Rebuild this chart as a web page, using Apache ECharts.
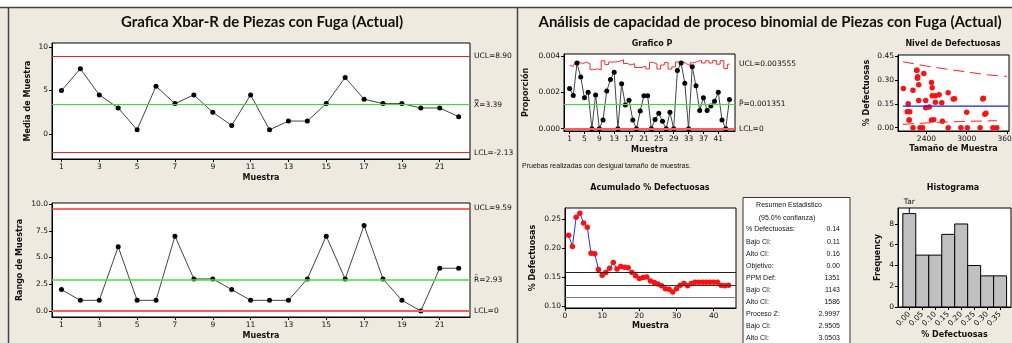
<!DOCTYPE html>
<html>
<head>
<meta charset="utf-8">
<script src="https://cdn.jsdelivr.net/npm/echarts@6/dist/echarts.min.js"></script>
<style>
html,body{margin:0;padding:0;background:#eeeae0;}
#main{width:1012px;height:343px;}
</style>
</head>
<body>
<div id="main"></div>
<script>
// datos Xbar-R (22 subgrupos)
var xbarMedias = [5, 7.5, 4.5, 3, 0.5, 5.5, 3.5, 4.5, 2.5, 1, 4.5, 0.5, 1.5, 1.5, 3.5, 6.5, 4, 3.5, 3.5, 3, 3, 2];
var xbarRangos = [2, 1, 1, 6, 1, 1, 7, 3, 3, 2, 1, 1, 1, 3, 7, 3, 8, 3, 1, 0, 4, 4];
var xbarLim = [8.90, 3.39, -2.13];   // UCL, centro, LCL
var rangoLim = [9.59, 2.93, 0];

// datos binomiales (44 muestras)
var proporciones = [0.0022, 0.00182, 0.0036, 0.00283, 0.0017, 0.0020, 0, 0.00185, 0, 0.00048,
  0.00207, 0.0027, 0.0031, 0, 0.00246, 0.0013, 0.00156, 0.00048, 0, 0.00097,
  0.0018, 0.0018, 0, 0.0005, 0.00084, 0.0004, 0, 0.0009, 0, 0.0032,
  0.0036, 0.0025, 0, 0.0034, 0.00235, 0.001, 0.0017, 0.001, 0.00125, 0.0015,
  0.002, 0.00048, 0, 0.0016];
var tamanos = [2724, 2819, 2257, 2476, 2286, 2486, 3390, 3248, 3448, 2143,
  2590, 2286, 2267, 2200, 2057, 2443, 2629, 2476, 3010, 3000,
  2800, 3240, 2305, 2510, 3270, 2638, 2343, 3286, 2914, 2270,
  2257, 2486, 2724, 2362, 2200, 2114, 2390, 2152, 2390, 2129,
  2533, 2143, 3200, 2533];
var pBarra = 0.001351;
var pUCL = 0.003555;
var acumulado = [0.222, 0.2025, 0.253, 0.260, 0.243, 0.236, 0.191, 0.190, 0.163, 0.153,
  0.158, 0.165, 0.175, 0.164, 0.168, 0.167, 0.166, 0.158, 0.152, 0.1475,
  0.149, 0.150, 0.143, 0.1405, 0.138, 0.135, 0.130, 0.129, 0.124, 0.130,
  0.136, 0.139, 0.135, 0.139, 0.141, 0.141, 0.141, 0.141, 0.141, 0.141,
  0.141, 0.136, 0.135, 0.136];
var ciDefect = [0.1143, 0.1351, 0.1586];
var nivelSup = [[2050, 0.414], [2400, 0.387], [2724, 0.366], [3000, 0.35], [3300, 0.332], [3600, 0.322]];
var nivelInf = [[2050, 0.021], [2400, 0.030], [2724, 0.036], [3000, 0.040], [3450, 0.044]];
var histBins = [0, 0.05, 0.10, 0.15, 0.20, 0.25, 0.30, 0.35];
var histFreq = [9, 5, 5, 7, 8, 4, 3, 3];

var resumenEtiquetas = ['% Defectuosas:', 'Bajo CI:', 'Alto CI:', 'Objetivo:', 'PPM Def:', 'Bajo CI:', 'Alto CI:', 'Proceso Z:', 'Bajo CI:', 'Alto CI:'];
var resumenValores = ['0.14', '0.11', '0.16', '0.00', '1351', '1143', '1586', '2.9997', '2.9505', '3.0503'];

var FONT = 'DejaVu Sans';

function pares(arr) {
  var r = [];
  for (var i = 0; i < arr.length; i++) r.push([i + 1, arr[i]]);
  return r;
}

// eje generico (Minitab: ticks hacia fuera, sin rejilla)
function eje(gi, min, max, ticks, dec, nombre, gap, rot) {
  return {
    type: 'value', gridIndex: gi, min: min, max: max,
    axisLine: {show: true, onZero: false, lineStyle: {color: '#000', width: 1}},
    axisTick: {show: true, customValues: ticks, length: 3, lineStyle: {color: '#000'}},
    axisLabel: {customValues: ticks, fontFamily: FONT, fontSize: 7.5, color: '#111', margin: rot ? 6 : 4, rotate: rot || 0,
      formatter: function (v) { return dec == null ? String(v) : Number(v).toFixed(dec); }},
    splitLine: {show: false},
    name: nombre, nameLocation: 'middle', nameGap: gap,
    nameTextStyle: {fontFamily: FONT, fontSize: 8, fontWeight: 'bold', color: '#111'}
  };
}

function texto(t, x, y, font, align, color) {
  return {type: 'text', silent: true, style: {text: t, x: x, y: y, font: font, fill: color || '#111',
    align: align || 'left', textAlign: align || 'left', verticalAlign: 'middle', textVerticalAlign: 'middle'}};
}

function limite(v, color, etiqueta, ancho) {
  return {yAxis: v, lineStyle: {color: color, width: ancho || 1.2, type: 'solid'},
    label: {show: !!etiqueta, formatter: etiqueta || '', position: 'end', distance: 4,
      fontFamily: FONT, fontSize: 7.5, color: '#111'}};
}

var gridBase = {show: true, backgroundColor: '#fff', borderColor: '#000', borderWidth: 1, containLabel: false, outerBoundsMode: 'none'};
function rejilla(l, t, w, h) {
  return Object.assign({}, gridBase, {left: l, top: t, width: w, height: h});
}

// UCL variable del grafico P segun el tamano de muestra
var uclP = [];
for (var i = 0; i < tamanos.length; i++) {
  uclP.push([i + 1, pBarra + 3 * Math.sqrt(pBarra * (1 - pBarra) / tamanos[i])]);
}

var nivel = [];
for (var j = 0; j < tamanos.length; j++) nivel.push([tamanos[j], proporciones[j] * 100]);

var histData = [];
for (var k = 0; k < histBins.length; k++) histData.push([histBins[k], histFreq[k]]);

var graficos = [
  {type: 'rect', shape: {x: 0, y: 0, width: 1012, height: 7}, style: {fill: '#fff'}, silent: true},
  {type: 'line', shape: {x1: 0, y1: 7.5, x2: 1012, y2: 7.5}, style: {stroke: '#444', lineWidth: 1.5}, silent: true},
  {type: 'line', shape: {x1: 8.5, y1: 7, x2: 8.5, y2: 343}, style: {stroke: '#444', lineWidth: 1.5}, silent: true},
  {type: 'line', shape: {x1: 517.5, y1: 7, x2: 517.5, y2: 343}, style: {stroke: '#444', lineWidth: 1.5}, silent: true},
  texto('Grafica Xbar-R de Piezas con Fuga (Actual)', 262, 22, 'bold 15px Lato', 'center'),
  texto('Análisis de capacidad de proceso binomial de Piezas con Fuga (Actual)', 770, 22, 'bold 15px Lato', 'center'),
  texto('Grafico P', 652, 44, 'bold 8px ' + FONT, 'center'),
  texto('Nivel de Defectuosas', 953, 44, 'bold 8px ' + FONT, 'center'),
  texto('Acumulado % Defectuosas', 650, 188, 'bold 8px ' + FONT, 'center'),
  texto('Histograma', 953, 188, 'bold 8px ' + FONT, 'center'),
  texto('Pruebas realizadas con desigual tamaño de muestras.', 522, 166, '7px "Liberation Sans"', 'left'),
  {type: 'rect', shape: {x: 743, y: 197.5, width: 107, height: 150}, style: {fill: '#fff', stroke: '#333', lineWidth: 1}, silent: true},
  texto('Resumen Estadistico', 789, 205.5, '7px "Liberation Sans"', 'center'),
  texto('(95.0% confianza)', 787, 218, '7px "Liberation Sans"', 'center')
];
for (var r = 0; r < resumenEtiquetas.length; r++) {
  graficos.push(texto(resumenEtiquetas[r], 746, 229.5 + r * 12.1, '7px "Liberation Sans"', 'left'));
  graficos.push(texto(resumenValores[r], 840, 229.5 + r * 12.1, '7px "Liberation Sans"', 'right'));
}

var option = {
  animation: false,
  backgroundColor: '#eeeae0',
  grid: [
    rejilla(52, 43, 418, 116),
    rejilla(52, 203, 418, 114),
    rejilla(564, 54, 171, 77),
    rejilla(898, 55, 111, 76),
    rejilla(565, 208, 171, 100),
    rejilla(898, 208, 113, 99)
  ],
  xAxis: [
    eje(0, 0.5, 22.6, [1, 3, 5, 7, 9, 11, 13, 15, 17, 19, 21], null, 'Muestra', 15),
    eje(1, 0.5, 22.6, [1, 3, 5, 7, 9, 11, 13, 15, 17, 19, 21], null, 'Muestra', 15),
    eje(2, -0.5, 45.5, [1, 5, 9, 13, 17, 21, 25, 29, 33, 37, 41], null, 'Muestra', 15),
    eje(3, 1977, 3630, [2400, 3000, 3600], null, 'Tamaño de Muestra', 14),
    eje(4, 0, 46, [0, 10, 20, 30, 40], null, 'Muestra', 14),
    eje(5, -0.0436, 0.392, histBins, 2, '% Defectuosas', 24, 45)
  ],
  yAxis: [
    eje(0, -2.85, 10.45, [0, 5, 10], null, 'Media de Muestra', 20),
    eje(1, -0.56, 10.1, [0, 2.5, 5, 7.5, 10], 1, 'Rango de Muestra', 28),
    eje(2, -0.00013, 0.0041, [0, 0.002, 0.004], 3, 'Proporción', 34),
    eje(3, -0.0207, 0.4563, [0, 0.15, 0.30, 0.45], 2, '% Defectuosas', 27),
    eje(4, 0.0966, 0.269, [0.10, 0.15, 0.20, 0.25], 2, '% Defectuosas', 28),
    eje(5, 0, 9.54, [0, 2, 4, 6, 8], null, 'Frequency', 16)
  ],
  graphic: graficos,
  series: [
    {
      type: 'line', xAxisIndex: 0, yAxisIndex: 0, data: pares(xbarMedias),
      symbol: 'circle', symbolSize: 5, itemStyle: {color: '#000'}, lineStyle: {color: '#444', width: 1},
      markLine: {silent: true, symbol: 'none', precision: 6, data: [
        limite(xbarLim[0], '#ff1a1a', 'UCL=8.90'),
        limite(xbarLim[1], '#2ee62e', 'X\u033F=3.39'),
        limite(xbarLim[2], '#ff1a1a', 'LCL=-2.13')
      ]}
    },
    {
      type: 'line', xAxisIndex: 1, yAxisIndex: 1, data: pares(xbarRangos),
      symbol: 'circle', symbolSize: 5, itemStyle: {color: '#000'}, lineStyle: {color: '#444', width: 1},
      markLine: {silent: true, symbol: 'none', precision: 6, data: [
        limite(rangoLim[0], '#ff3030', 'UCL=9.59', 1.5),
        limite(rangoLim[1], '#3ee03e', 'R\u0304=2.93', 1.5),
        limite(rangoLim[2], '#ff5a5a', 'LCL=0', 1.8)
      ]}
    },
    {
      type: 'line', xAxisIndex: 2, yAxisIndex: 2, data: uclP, step: 'middle',
      showSymbol: false, lineStyle: {color: '#ff2a2a', width: 1}, z: 1
    },
    {
      type: 'line', xAxisIndex: 2, yAxisIndex: 2, data: pares(proporciones),
      symbol: 'circle', symbolSize: 5, itemStyle: {color: '#000'}, lineStyle: {color: '#444', width: 1}, z: 3,
      markLine: {silent: true, symbol: 'none', precision: 8, data: [
        limite(pUCL, 'rgba(0,0,0,0)', 'UCL=0.003555'),
        limite(pBarra, '#2ee62e', 'P\u0304=0.001351'),
        limite(0, '#ff5a5a', 'LCL=0', 1.8)
      ]}
    },
    {
      type: 'line', xAxisIndex: 3, yAxisIndex: 3, data: nivelSup, showSymbol: false,
      lineStyle: {color: '#ff2020', width: 1, type: [11, 6]}
    },
    {
      type: 'line', xAxisIndex: 3, yAxisIndex: 3, data: nivelInf, showSymbol: false,
      lineStyle: {color: '#ff2020', width: 1, type: [11, 6]}
    },
    {
      type: 'line', xAxisIndex: 3, yAxisIndex: 3, data: [[2050, ciDefect[1]], [3620, ciDefect[1]]], showSymbol: false,
      lineStyle: {color: '#1a1aff', width: 1.2}
    },
    {
      type: 'scatter', xAxisIndex: 3, yAxisIndex: 3, data: nivel, symbolSize: 5.5,
      itemStyle: {color: '#ff1010', opacity: 1}
    },
    {
      type: 'line', xAxisIndex: 4, yAxisIndex: 4, data: pares(acumulado),
      symbol: 'circle', symbolSize: 5.5, itemStyle: {color: '#ff1010'}, lineStyle: {color: '#2a2aff', width: 1}, z: 3,
      markLine: {silent: true, symbol: 'none', precision: 6, data: [
        limite(ciDefect[2], '#222', ''),
        limite(ciDefect[1], '#333', ''),
        limite(ciDefect[0], '#777', '')
      ]}
    },
    {
      type: 'custom', xAxisIndex: 5, yAxisIndex: 5, data: histData, encode: {x: 0, y: 1},
      renderItem: function (params, api) {
        var x = api.value(0), y = api.value(1);
        var p1 = api.coord([x - 0.025, y]);
        var p2 = api.coord([x + 0.025, 0]);
        return {type: 'rect', shape: {x: p1[0], y: p1[1], width: p2[0] - p1[0], height: p2[1] - p1[1]},
          style: {fill: '#c0c0c0', stroke: '#000', lineWidth: 1}};
      }
    },
    {
      type: 'line', xAxisIndex: 5, yAxisIndex: 5, clip: false,
      data: [{value: [0, 9]}, {value: [0, 9.54], label: {show: true, position: 'top', distance: 2, formatter: 'Tar',
        fontFamily: FONT, fontSize: 7.5, color: '#111'}}],
      symbol: 'circle', symbolSize: 0.1, showSymbol: true, itemStyle: {color: '#000'}, lineStyle: {color: '#000', width: 1}
    }
  ]
};

var chart = echarts.init(document.getElementById('main'));
chart.setOption(option);
</script>
</body>
</html>
